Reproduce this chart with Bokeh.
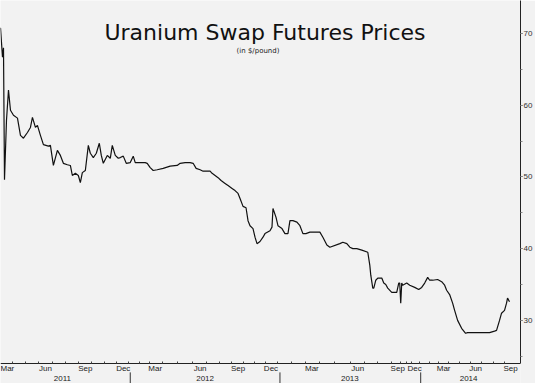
from bokeh.plotting import figure
from bokeh.models import Range1d, FixedTicker, SingleIntervalTicker, Label
from bokeh.core.properties import value
from bokeh.embed import file_html
from bokeh.resources import INLINE

# ---- data (observation index along the x axis, price in $/pound) ----
obs = [0, 2, 3, 4, 6, 8, 10, 13, 17, 20, 23, 27, 30, 32, 35, 37, 40, 43, 48, 50,
       53, 57, 60, 63, 67, 70, 72, 75, 78, 80, 82, 85, 88, 90, 93, 96, 99, 101, 103, 107,
       110, 112, 115, 118, 120, 123, 126, 130, 133, 135, 145, 147, 150, 153, 157, 163, 170, 177, 180, 185,
       190, 193, 196, 200, 203, 210, 212, 215, 218, 221, 225, 228, 232, 235, 238, 240, 243, 246, 248, 250,
       253, 255, 257, 260, 263, 265, 270, 272, 273, 276, 278, 282, 285, 288, 290, 293, 297, 300, 303, 306,
       310, 320, 323, 327, 330, 340, 343, 347, 350, 353, 357, 362, 368, 370, 371, 373, 374, 376, 378, 382,
       384, 386, 388, 392, 397, 399, 400, 401, 402, 403, 407, 410, 415, 419, 422, 425, 428, 430, 433, 438,
       442, 445, 447, 450, 453, 455, 458, 462, 466, 468, 473, 483, 490, 495, 497, 500, 502, 505, 507, 508,
       510]
price = [70.8, 66.7, 68.0, 49.6, 57.9, 62.1, 59.3, 58.6, 58.2, 55.8, 55.4, 56.2, 56.9, 58.3, 56.9, 57.2, 55.8, 54.5, 54.3, 54.4,
         51.6, 53.7, 53.0, 51.9, 51.7, 51.6, 50.2, 50.5, 50.2, 49.2, 50.6, 50.9, 54.4, 53.3, 52.7, 53.3, 54.7, 53.0, 51.9, 53.0,
         52.6, 54.4, 53.0, 52.6, 52.7, 52.9, 51.9, 52.0, 52.9, 52.0, 52.0, 51.9, 51.3, 50.9, 51.0, 51.2, 51.5, 51.6, 51.9, 52.0,
         52.0, 51.9, 51.2, 51.0, 50.8, 50.8, 50.5, 50.2, 49.9, 49.5, 49.1, 48.8, 48.4, 48.1, 47.7, 47.0, 45.9, 45.7, 43.9, 43.2,
         42.8, 41.6, 40.7, 41.0, 41.6, 42.1, 42.5, 43.0, 45.6, 44.4, 43.2, 42.8, 42.1, 42.1, 43.9, 43.9, 43.7, 43.2, 42.1, 42.1,
         42.3, 42.3, 41.6, 40.5, 40.2, 40.7, 40.9, 40.7, 40.2, 40.0, 40.0, 39.8, 39.5, 37.7, 36.3, 34.5, 34.5, 35.6, 35.9, 35.9,
         35.2, 35.0, 34.5, 33.9, 33.9, 35.2, 35.2, 32.4, 35.2, 34.9, 35.2, 34.9, 34.6, 34.3, 34.6, 35.2, 36.0, 35.6, 35.6, 35.7,
         35.4, 34.9, 34.2, 33.6, 32.4, 31.4, 30.0, 28.9, 28.2, 28.3, 28.3, 28.3, 28.3, 28.5, 28.6, 30.0, 31.0, 31.4, 32.4, 33.1,
         32.6]

quarter_pos = [6, 45, 85, 123, 155, 200, 238, 271, 312, 358, 398, 415, 444, 476, 511]
quarter_lab = ["Mar", "Jun", "Sep", "Dec", "Mar", "Jun", "Sep", "Dec",
               "Mar", "Jun", "Sep", "Dec", "Mar", "Jun", "Sep"]
year_pos = [62, 205, 350, 469]
year_lab = ["2011", "2012", "2013", "2014"]
year_bounds = [130, 280, 421]

title_text = "Uranium Swap Futures Prices"
subtitle_text = "(in $/pound)"

BG = "#f2f2f2"
TICK_FONT = "Liberation Sans"

# layout positions (in price units) of the time-axis band
Y_TOP = 74.6
AXIS_Y = 24.0        # the time axis line
SEP_TOP = 22.75      # year separators start below the month row
YEAR_ROW = 21.9      # year labels
Y_BOTTOM = 21.2

# monthly boundary ticks between quarterly label centres
month_ticks = []
for c0, c1 in zip(quarter_pos[:-1], quarter_pos[1:]):
    w = (c1 - c0) / 3.0
    month_ticks += [c0 + 0.5 * w, c0 + 1.5 * w, c0 + 2.5 * w]

p = figure(width=535, height=383, output_backend="svg", toolbar_location=None,
           x_range=Range1d(0, 521), y_range=Range1d(Y_BOTTOM, Y_TOP),
           y_axis_location="right",
           min_border_left=0, min_border_top=0, min_border_right=14, min_border_bottom=0)
p.background_fill_color = BG
p.border_fill_color = BG
p.outline_line_color = None
p.grid.visible = False

p.line(obs, price, line_color="#111111", line_width=1.2)

# right value axis
ya = p.yaxis[0]
ya.ticker = SingleIntervalTicker(interval=10, num_minor_ticks=2)
ya.bounds = (AXIS_Y, Y_TOP)
ya.axis_line_color = "#222222"
ya.major_tick_in = 0
ya.major_tick_out = 2
ya.minor_tick_in = 0
ya.minor_tick_out = 2
ya.major_tick_line_color = "#444444"
ya.minor_tick_line_color = "#888888"
ya.major_label_standoff = 1
ya.major_label_text_font = TICK_FONT
ya.major_label_text_font_size = "8px"
ya.major_label_text_color = "#333333"

# month axis, pinned at AXIS_Y inside the frame
xa = p.xaxis[0]
xa.fixed_location = AXIS_Y
xa.ticker = FixedTicker(ticks=quarter_pos, minor_ticks=month_ticks)
xa.major_label_overrides = {pos: lab for pos, lab in zip(quarter_pos, quarter_lab)}
xa.axis_line_color = "#222222"
xa.major_tick_line_color = None
xa.major_tick_in = 0
xa.major_tick_out = 0
xa.minor_tick_in = 2
xa.minor_tick_out = 0
xa.minor_tick_line_color = "#444444"
xa.major_label_standoff = 1
xa.major_label_text_font = TICK_FONT
xa.major_label_text_font_size = "8px"
xa.major_label_text_color = "#222222"

# year separators and year labels
p.segment(x0=year_bounds, y0=SEP_TOP, x1=year_bounds, y1=Y_BOTTOM,
          line_color="#333333", line_width=1)
p.text(x=year_pos, y=YEAR_ROW, text=year_lab, text_align="center", text_baseline="middle",
       text_font=value(TICK_FONT), text_font_size="8px", text_color="#222222")

p.add_layout(Label(x=265, y=70.14, text=title_text,
                   text_align="center", text_baseline="alphabetic",
                   text_font="DejaVu Sans", text_font_size="22px", text_color="#111111"))
p.add_layout(Label(x=258, y=67.6, text=subtitle_text,
                   text_align="center", text_baseline="alphabetic",
                   text_font="DejaVu Sans", text_font_size="7px", text_color="#222222"))

open("out.html", "w").write(file_html(p, INLINE))
